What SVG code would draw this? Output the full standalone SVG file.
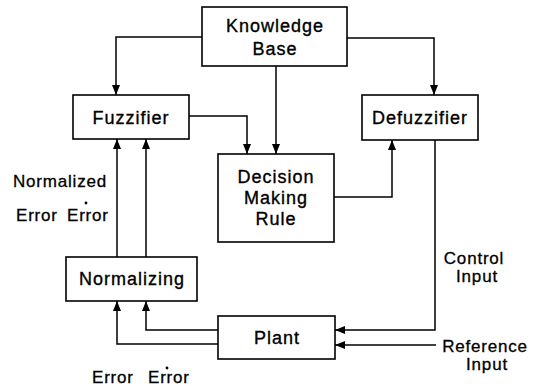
<svg xmlns="http://www.w3.org/2000/svg" width="539" height="386" viewBox="0 0 539 386">
<style>
.box{fill:#fff;stroke:#000;stroke-width:1.6}
.t{font-family:"Liberation Sans",Arial,sans-serif;font-size:18px;letter-spacing:1px;fill:#000;stroke:#000;stroke-width:0.35;text-anchor:middle}
.l{font-family:"Liberation Sans",Arial,sans-serif;font-size:17px;letter-spacing:0.8px;fill:#000;stroke:#000;stroke-width:0.3}
.c{fill:none;stroke:#000;stroke-width:1.5}
</style>
<defs>
<marker id="ah" viewBox="0 0 10 8" refX="10" refY="4" markerWidth="10" markerHeight="8" markerUnits="userSpaceOnUse" orient="auto">
<path d="M0,0 L10,4 L0,8 Z" fill="#000"/>
</marker>
</defs>
<rect width="539" height="386" fill="#fff"/>
<g id="connectors">
<path class="c" d="M202,37 H116 V95" marker-end="url(#ah)"/>
<path class="c" d="M347,38 H434 V95" marker-end="url(#ah)"/>
<path class="c" d="M276,66 V154" marker-end="url(#ah)"/>
<path class="c" d="M189,116 H247 V154" marker-end="url(#ah)"/>
<path class="c" d="M334,197 H392 V140" marker-end="url(#ah)"/>
<path class="c" d="M435,140 V330 H335" marker-end="url(#ah)"/>
<path class="c" d="M436,345 H335" marker-end="url(#ah)"/>
<path class="c" d="M218,330 H146 V301" marker-end="url(#ah)"/>
<path class="c" d="M218,344 H117 V301" marker-end="url(#ah)"/>
<path class="c" d="M117,257 V139" marker-end="url(#ah)"/>
<path class="c" d="M146,257 V139" marker-end="url(#ah)"/>
</g>
<g id="knowledge-base">
<rect class="box" x="202" y="7" width="145" height="59"/>
<text class="t" x="275" y="32">Knowledge</text>
<text class="t" x="275" y="55">Base</text>
</g>
<g id="fuzzifier">
<rect class="box" x="73" y="95" width="116" height="44"/>
<text class="t" x="131" y="124">Fuzzifier</text>
</g>
<g id="defuzzifier">
<rect class="box" x="362" y="95" width="116" height="45"/>
<text class="t" x="420" y="124">Defuzzifier</text>
</g>
<g id="decision">
<rect class="box" x="218" y="154" width="116" height="88"/>
<text class="t" x="276" y="183">Decision</text>
<text class="t" x="276" y="204">Making</text>
<text class="t" x="276" y="225">Rule</text>
</g>
<g id="normalizing">
<rect class="box" x="66" y="257" width="131" height="44"/>
<text class="t" x="132" y="285">Normalizing</text>
</g>
<g id="plant">
<rect class="box" x="218" y="316" width="117" height="43"/>
<text class="t" x="277" y="344">Plant</text>
</g>
<g id="labels">
<text class="l" x="13" y="187">Normalized</text>
<text class="l" x="16" y="221">Error</text>
<text class="l" x="67" y="221">Error</text>
<circle cx="86" cy="203" r="1.4" fill="#000"/>
<text class="l" x="92" y="383">Error</text>
<text class="l" x="148" y="383">Error</text>
<circle cx="167" cy="368" r="1.4" fill="#000"/>
<text class="l" x="474" y="264" text-anchor="middle">Control</text>
<text class="l" x="477" y="282" text-anchor="middle">Input</text>
<text class="l" x="485" y="352" text-anchor="middle">Reference</text>
<text class="l" x="487" y="370" text-anchor="middle">Input</text>
</g>
</svg>
